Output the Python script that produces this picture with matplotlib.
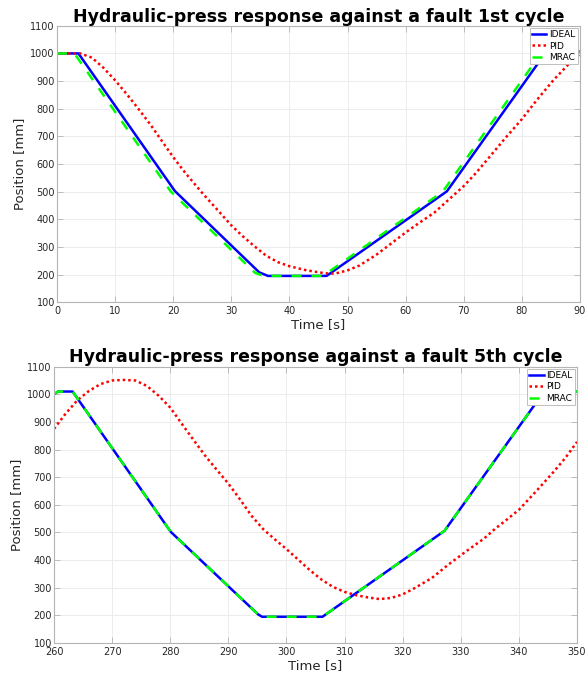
import numpy as np
import matplotlib
matplotlib.use('Agg')
import matplotlib.pyplot as plt

# 1st cycle
t1_ideal = [0, 3.7, 20.3, 34.8, 36.3, 46.4, 67.1, 84.0, 84.5, 90]
y1_ideal = [1000, 1000, 502, 208, 195, 195, 501, 1000, 1008, 1008]

t1_mrac = [0, 3.0, 19.6, 34.1, 35.6, 45.8, 66.4, 83.3, 83.8, 90]
y1_mrac = [1000, 1000, 500, 206, 195, 195, 500, 1000, 1008, 1008]

t1_pid = [0, 4, 6, 8, 10, 12, 14, 16, 18, 20, 22, 25, 28, 30, 32, 34, 36, 38,
          40, 43, 46, 47, 48, 50, 52, 55, 58, 60, 62, 65, 68, 70, 72, 74.5,
          77, 80, 82.6, 85.5, 88, 90]
y1_pid = [1000, 1000, 985, 948, 903, 853, 800, 745, 685, 625, 570, 495, 425,
          378, 338, 302, 268, 245, 230, 215, 205, 203, 204, 215, 232, 272, 320,
          352, 382, 425, 482, 520, 565, 627, 690, 762, 832, 905, 960, 992]

# 5th cycle
t5_ideal = [260, 260.7, 263.2, 280.1, 295.1, 295.8, 306.2, 327.2, 344.0, 344.4, 350]
y5_ideal = [1000, 1010, 1010, 502, 204, 195, 195, 506, 1000, 1010, 1010]

t5_mrac = t5_ideal
y5_mrac = y5_ideal

t5_pid = [260, 262, 264, 266, 268, 270, 272, 274, 276, 278, 280, 282, 284, 286,
          288, 290, 292, 294, 296, 298, 300, 302, 304, 306, 308, 310, 312, 314,
          316, 318, 320, 322, 325, 328, 331, 334, 336, 338, 340, 343, 346, 348,
          350]
y5_pid = [875, 930, 978, 1012, 1037, 1050, 1052, 1050, 1030, 995, 952, 893,
          835, 778, 727, 677, 620, 560, 512, 475, 440, 402, 364, 330, 303, 285,
          273, 265, 259, 263, 276, 298, 335, 386, 433, 478, 515, 548, 582, 650,
          720, 770, 828]

spine_col = '#b4b4b4'
txt_col = '#262626'


def draw_cycle(ax, t_ideal, y_ideal, t_pid, y_pid, t_mrac, y_mrac, xlim, title):
    ax.plot(t_ideal, y_ideal, color='#0000ff', lw=1.8, label='IDEAL')
    ax.plot(t_pid, y_pid, color='#ff0000', lw=1.8, ls=(0, (1, 1.2)), label='PID')
    ax.plot(t_mrac, y_mrac, color='#00ff00', lw=1.8, ls=(0, (4, 4)), label='MRAC')
    ax.set_xlim(xlim)
    ax.set_ylim(100, 1100)
    ax.set_xticks(np.arange(xlim[0], xlim[1] + 1, 10))
    ax.set_yticks(np.arange(100, 1101, 100))
    ax.grid(True, color='#ececec', lw=0.7)
    ax.set_axisbelow(True)
    for s in ax.spines.values():
        s.set_color(spine_col)
        s.set_linewidth(0.8)
    ax.tick_params(direction='in', top=True, right=True, length=4, width=0.6,
                   color=spine_col, labelsize=7, labelcolor=txt_col)
    ax.tick_params(axis='x', pad=3)
    ax.tick_params(axis='y', pad=1.5)
    ax.set_title(title, fontsize=12.5, fontweight='bold', pad=3)
    ax.set_xlabel('Time [s]', fontsize=9.5, color=txt_col, labelpad=1)
    ax.set_ylabel('Position [mm]', fontsize=9.5, color=txt_col, labelpad=3)
    leg = ax.legend(loc='upper right', fontsize=6.5, fancybox=False, framealpha=1,
                    handlelength=1.6, handletextpad=0.3, borderpad=0.25,
                    labelspacing=0.25, borderaxespad=0.25)
    leg.get_frame().set_edgecolor(spine_col)
    leg.get_frame().set_linewidth(0.6)


if __name__ == '__main__':
    fig = plt.figure(figsize=(5.87, 6.79), dpi=100)
    ax1 = fig.add_axes([0.097, 0.555, 0.891, 0.407])
    ax2 = fig.add_axes([0.092, 0.053, 0.891, 0.407])
    draw_cycle(ax1, t1_ideal, y1_ideal, t1_pid, y1_pid, t1_mrac, y1_mrac,
               (0, 90), 'Hydraulic-press response against a fault 1st cycle')
    draw_cycle(ax2, t5_ideal, y5_ideal, t5_pid, y5_pid, t5_mrac, y5_mrac,
               (260, 350), 'Hydraulic-press response against a fault 5th cycle')
    fig.savefig('out.png', dpi=100)
